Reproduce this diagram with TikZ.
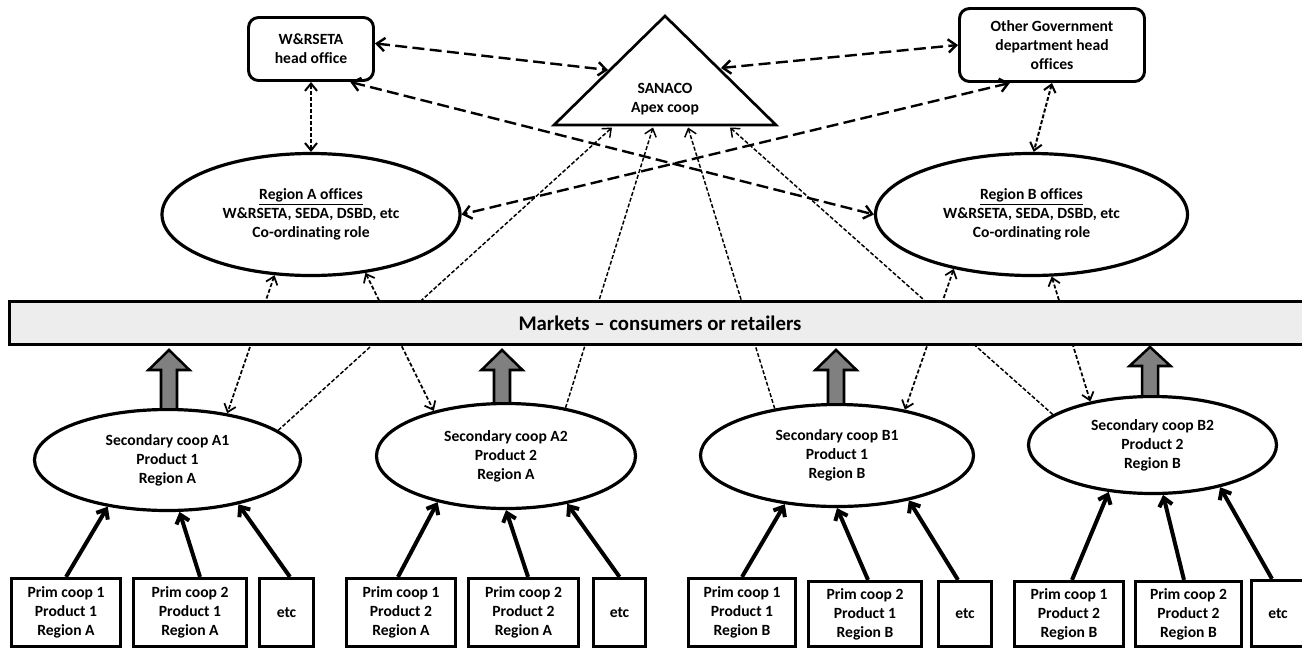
\documentclass[tikz,border=0pt]{standalone}
\usepackage{fontspec}
\setmainfont{Carlito}[Ligatures=NoCommon]
\usetikzlibrary{arrows.meta,shapes.geometric,backgrounds}
\definecolor{arrgray}{HTML}{808080}
\definecolor{barfill}{HTML}{EDEDED}
\tikzset{
  txt/.style={font=\fontsize{11.7pt}{14.25pt}\selectfont\bfseries, align=center, inner sep=0pt},
  headbox/.style={txt, draw, rectangle, rounded corners=7.5pt, line width=2.2pt},
  oval/.style={txt, draw, ellipse, line width=2.4pt},
  pbox/.style={txt, draw, rectangle, line width=2.4pt},
  mktbar/.style={draw, rectangle, line width=2.2pt, fill=barfill, inner sep=0pt,
    font=\fontsize{15.6pt}{18pt}\selectfont\bfseries, minimum width=975.75pt, minimum height=32.25pt},
  tri/.style={draw, line width=2pt, line join=miter},
  bigdash/.style={line width=1.8pt, dash pattern=on 9pt off 4pt,
    >={Straight Barb[length=6pt,width=10pt]}, <->},
  vdash/.style={line width=1.5pt, dash pattern=on 3pt off 1.5pt,
    >={Straight Barb[length=5.5pt,width=9pt]}, <->},
  finedash/.style={line width=1.3pt, dash pattern=on 3pt off 1.6pt,
    >={Straight Barb[length=5.5pt,width=9pt]}, <->},
  apexdash/.style={line width=1.1pt, dash pattern=on 3pt off 1.5pt,
    >={Straight Barb[length=5.5pt,width=9pt]}, ->},
  solidarr/.style={line width=3pt, -{Straight Barb[length=6pt,width=10pt]}},
  blockarrow/.style={draw=black, fill=arrgray, line width=1.9pt, line join=miter}
}
\newcommand{\blockup}[4]{%
  \draw[blockarrow] (#1-8,#4) -- (#1-8,#3) -- (#1-20.5,#3) -- (#1,#2) -- (#1+20.5,#3) -- (#1+8,#3) -- (#1+8,#4) -- cycle;}
\begin{document}
\begin{tikzpicture}[x=0.75pt,y=-0.75pt]
\useasboundingbox (0,0) rectangle (1302,650);

% head offices and apex
\node[headbox, minimum width=93.75pt, minimum height=47.25pt] (wr) at (311,49) {W\&RSETA\\head office};
\node[headbox, minimum width=138.75pt, minimum height=54.75pt] (gv) at (1052,45) {Other Government\\department head\\offices};
\draw[tri] (665,16) -- (776,125) -- (554,125) -- cycle;
\node[txt] (sanaco) at (665,99) {SANACO\\Apex coop};
\coordinate (sL) at (608,70);
\coordinate (sR) at (721,68);
\coordinate (s1) at (612,127.5);
\coordinate (s2) at (653,127.5);
\coordinate (s3) at (688,127.5);
\coordinate (s4) at (730,127.5);

% regional offices
\node[oval, minimum width=223.5pt, minimum height=91.5pt] (RA) at (311,214.5)
  {\underline{Region A offices}\\W\&RSETA, SEDA, DSBD, etc\\Co-ordinating role};
\node[oval, minimum width=234pt, minimum height=91.5pt] (RB) at (1031.5,214.5)
  {\underline{Region B offices}\\W\&RSETA, SEDA, DSBD, etc\\Co-ordinating role};

% markets
\node[mktbar] (mk) at (660,323) {Markets – consumers or retailers};

% secondary coops
\node[oval, minimum width=199.5pt, minimum height=75.75pt] (A1) at (167.5,460) {Secondary coop A1\\Product 1\\Region A};
\node[oval, minimum width=194.25pt, minimum height=78.75pt] (A2) at (506,456) {Secondary coop A2\\Product 2\\Region A};
\node[oval, minimum width=204.75pt, minimum height=76.5pt] (B1) at (837,455.5) {Secondary coop B1\\Product 1\\Region B};
\node[oval, minimum width=186pt, minimum height=72.75pt] (B2) at (1152.5,445) {Secondary coop B2\\Product 2\\Region B};

% primary coops
\node[pbox, minimum width=81.75pt, minimum height=51pt] (p1) at (66,612.5) {Prim coop 1\\Product 1\\Region A};
\node[pbox, minimum width=84.75pt, minimum height=51pt] (p2) at (190,612.5) {Prim coop 2\\Product 1\\Region A};
\node[pbox, minimum width=40.5pt, minimum height=51pt] (p3) at (286.5,612.5) {etc};
\node[pbox, minimum width=81.75pt, minimum height=51pt] (p4) at (401,612.5) {Prim coop 1\\Product 2\\Region A};
\node[pbox, minimum width=82.5pt, minimum height=51pt] (p5) at (523.5,612.5) {Prim coop 2\\Product 2\\Region A};
\node[pbox, minimum width=39pt, minimum height=51pt] (p6) at (619.5,612.5) {etc};
\node[pbox, minimum width=80.25pt, minimum height=51pt] (p7) at (742,612.5) {Prim coop 1\\Product 1\\Region B};
\node[pbox, minimum width=84.75pt, minimum height=48.75pt] (p8) at (865,614) {Prim coop 2\\Product 1\\Region B};
\node[pbox, minimum width=39.75pt, minimum height=48.75pt] (p9) at (965,614) {etc};
\node[pbox, minimum width=81.75pt, minimum height=48.75pt] (p10) at (1069,614) {Prim coop 1\\Product 2\\Region B};
\node[pbox, minimum width=79.5pt, minimum height=48.75pt] (p11) at (1188.5,614) {Prim coop 2\\Product 2\\Region B};
\node[pbox, minimum width=39.75pt, minimum height=49.5pt] (p12) at (1278,613.5) {etc};

% dashed connectors (behind the market bar)
\begin{scope}[on background layer]
  \draw[bigdash] (wr.5) -- (sL);
  \draw[bigdash] (sR) -- (gv.west);
  \draw[bigdash] (wr.320) -- (RB.west);
  \draw[bigdash] (gv.222) -- (RA.east);
  \draw[vdash] (wr.south) -- (RA.north);
  \draw[vdash] (gv.south) -- (RB.88);
  \draw[finedash] (RA.239) -- (A1.38);
  \draw[finedash] (RA.313) -- (A2.148);
  \draw[finedash] (RB.215) -- (B1.34);
  \draw[finedash] (RB.288) -- (B2.145);
  \draw[apexdash] (A1.15) -- (s1);
  \draw[apexdash] (A2.39) -- (s2);
  \draw[apexdash] (B1.143) -- (s3);
  \draw[apexdash] (B2.163) -- (s4);
\end{scope}

% block arrows to market
\blockup{169}{350}{370}{409.5}
\blockup{502}{350}{370}{403.5}
\blockup{836}{350}{370}{404.5}
\blockup{1150}{347}{366}{396.5}

% primary to secondary
\draw[solidarr] (p1.north) -- (A1.218);
\draw[solidarr] ([xshift=7.5pt]p2.north) -- (A1.283);
\draw[solidarr] ([xshift=2.6pt]p3.north) -- (A1.328);
\draw[solidarr] ([xshift=-2.25pt]p4.north) -- (A2.214);
\draw[solidarr] ([xshift=3.4pt]p5.north) -- (A2.270);
\draw[solidarr] (p6.north) -- (A2.322);
\draw[solidarr] (p7.north) -- (B1.223);
\draw[solidarr] ([xshift=2.25pt]p8.north) -- (B1.270);
\draw[solidarr] ([xshift=-5.25pt]p9.north) -- (B1.328);
\draw[solidarr] ([xshift=2.25pt]p10.north) -- (B2.227);
\draw[solidarr] ([xshift=-3.4pt]p11.north) -- (B2.282);
\draw[solidarr] ([xshift=-4.5pt]p12.north) -- (B2.328);
\end{tikzpicture}
\end{document}
